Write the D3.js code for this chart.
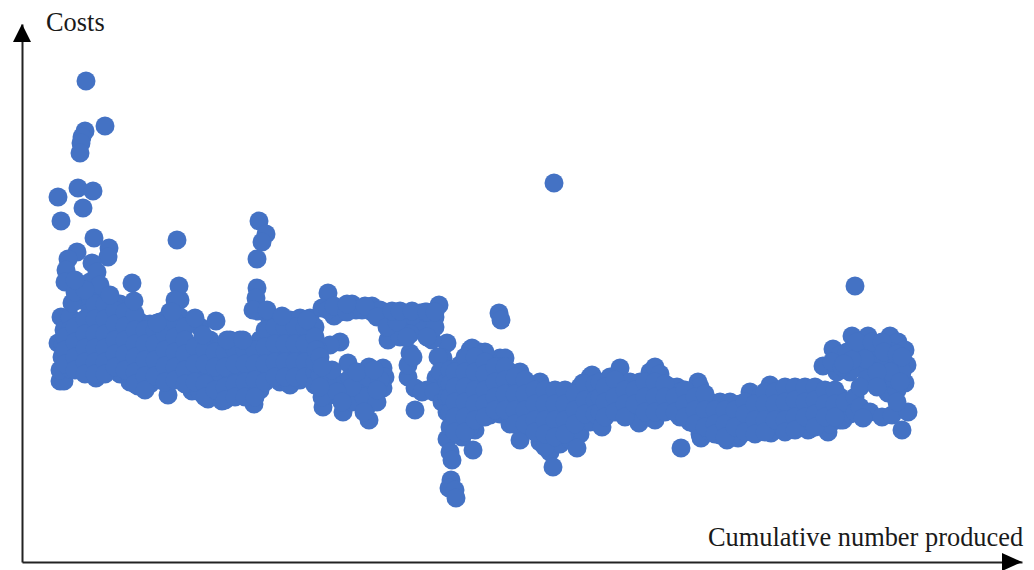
<!DOCTYPE html>
<html lang="en">
<head>
    <meta charset="utf-8">
    <title>Costs vs cumulative number produced</title>
    <script src="https://cdn.jsdelivr.net/npm/d3@7"></script>
    <style>
        html, body {margin: 0; padding: 0; background: #fff;}
        text {font-family: "Liberation Serif", serif; fill: #1a1a1a;}
    </style>
</head>
<body>
<script>
    const dim = {width: 1034, height: 570};

    const xLabel = "Cumulative number produced";
    const yLabel = "Costs";

    // values, [cumulative number, cost] in arbitrary units
    const outliers = [
        [64,481],[83,436],[63,431],[60,425],[59,419],[58,409],[56,374],[71,371],[61,354],[36,365],[39,341],
        [532,379],[833,276],[155,322],[237,341],[244,328],[240,320],[235,303]
    ];

    const earlyArms = [
        [55,310],[46,303],[44,292],[43,280],[50,259],[53,270],[72,324],[87,314],[86,305],[70,299],[75,290],
        [78,277],[63,272],[53,282],[88,267],[110,279],[112,261],[235,274],[234,264],[236,251],[231,252],[245,252],
        [260,246],[285,242],[157,276],[153,262],[150,250],[173,244],[194,241],[181,227],[205,222],[221,222],[135,239]
    ];

    const earlyCloud = [
        [36,219],[38,181],[42,181],[38,192],[40,205],[39,245],[42,232],[41,218],
        [48,245],[48,232],[48,218],[48,205],[48,193],
        [58,262],[58,240],[58,225],[58,212],[58,200],[58,192],
        [68,280],[68,265],[68,250],[68,236],[68,222],[68,208],[68,195],
        [78,265],[78,250],[78,236],[78,222],[78,208],[78,195],[74,184],
        [88,262],[88,248],[88,232],[88,218],[88,205],[88,193],
        [98,258],[98,245],[98,230],[98,215],[98,200],[98,188],
        [108,255],[108,240],[108,226],[108,212],[108,198],[108,180],
        [118,240],[118,225],[118,210],[118,195],[116,176],
        [128,238],[128,224],[128,208],[128,192],[128,178],
        [138,240],[138,225],[138,210],[138,195],[138,182],
        [148,250],[148,235],[148,218],[148,203],[148,188],[146,167],
        [158,262],[158,245],[158,230],[158,215],[158,200],[158,188],
        [168,215],[168,200],[168,185],[170,171],
        [178,235],[178,218],[178,200],[178,185],[178,170],
        [188,222],[188,205],[188,190],[186,163],
        [198,215],[198,200],[198,180],[200,161],
        [208,222],[208,205],[208,190],[208,172],
        [218,222],[218,205],[218,190],[218,170],
        [228,212],[228,195],[228,175],[232,158],
        [238,222],[238,205],[238,190],[238,172],
        [248,242],[248,225],[248,208],[248,190],
        [258,244],[258,228],[258,212],[258,195],[258,180],
        [268,242],[268,225],[268,208],[268,192],[268,177],
        [278,244],[278,228],[278,210],[278,195],[278,182],
        [288,244],[288,225],[288,208],[288,192],
        [296,215],[296,200]
    ];

    const earlyFill = [
        [43,225],[43,212],[43,198],
        [53,235],[53,220],[53,205],[53,192],
        [63,243],[63,228],[63,214],[63,200],[63,188],
        [73,272],[73,258],[73,243],[73,228],[73,214],[73,200],[73,188],
        [83,258],[83,243],[83,228],[83,214],[83,200],[83,188],
        [93,252],[93,238],[93,222],[93,208],[93,195],
        [103,250],[103,236],[103,222],[103,208],[103,192],
        [113,248],[113,232],[113,218],[113,205],[113,190],[113,178],
        [123,232],[123,218],[123,202],[123,186],[123,172],
        [133,232],[133,218],[133,202],[133,186],
        [143,242],[143,228],[143,212],[143,196],[143,180],
        [153,240],[153,225],[153,210],[153,195],[153,182],
        [163,235],[163,222],[163,208],[163,192],[163,178],
        [173,215],[173,198],[173,180],
        [183,212],[183,198],[183,178],[183,165],
        [193,210],[193,195],[193,172],
        [203,210],[203,195],[203,175],[203,162],
        [213,212],[213,198],[213,178],[213,165],
        [223,212],[223,198],[223,180],[223,165],
        [233,212],[233,198],[233,182],[233,165],
        [243,232],[243,215],[243,198],[243,180],
        [253,235],[253,218],[253,200],[253,185],
        [263,235],[263,218],[263,200],[263,185],
        [273,235],[273,218],[273,200],[273,185],
        [283,235],[283,218],[283,200],[283,185],
        [293,235],[293,225],[293,190]
    ];

    const middleBlock = [
        [318,220],[308,217],[296,212],[301,155],[321,150],[326,199],[347,195],[361,194],[363,185],[361,174],
        [347,142],[346,157],[308,167],[293,177],[298,187],[313,182],[328,184],[323,170],[338,177],[350,182],
        [336,162],[350,170],[293,200],[294,212],
        [306,269],[300,254],[318,250],[330,258],[334,252],[350,256],[350,250],[363,250],[373,248],[383,249],
        [398,249],[408,246],[417,257],[409,240],[408,232],[366,222],[378,232],[388,237],[398,232],[312,246],
        [388,209],[386,185],[393,174],[393,152],[425,219],[421,204],[416,205],[414,184],[405,172],[400,235],[410,222],
        [477,249],[479,242]
    ];

    const middleFill = [
        [306,252],[312,256],[325,250],[340,252],[358,252],[368,248],[378,247],[390,246],[403,250],[413,245],
        [325,258],[343,256],[413,235],[388,228],[378,225],[405,225],[355,245],[365,235],[375,240],[385,225],
        [303,170],[318,165],[330,160],[342,165],[355,160],[330,175],[345,185],[358,182],[335,190],[352,192],
        [305,180],[300,165],[315,170],[298,175],[310,192],[298,205],[300,195],[320,160],[355,172],[342,150],
        [386,197],[391,205],[400,170],[418,190],[424,175],[412,170],[420,160],
        [370,251],[378,251],[390,251],[405,250],[413,250]
    ];

    const dropCloud = [
        [425,123],[428,110],[430,102],[429,82],[427,74],[433,72],[434,64],[451,112],[453,132],[435,139],[428,135],[440,125],
        [425,150],[425,165],[425,180],
        [428,192],[428,178],[428,165],[428,150],
        [438,197],[438,182],[438,168],[438,152],
        [448,212],[448,197],[448,182],[448,168],[448,150],[448,135],
        [458,210],[458,196],[458,180],[458,165],[458,150],
        [468,200],[468,185],[468,170],[468,155],[468,147],
        [478,204],[478,190],[478,175],[478,160],[478,148],
        [488,190],[488,175],[488,160],[488,145],[488,138],
        [498,190],[498,175],[498,160],[498,145],[498,122],
        [508,175],[508,160],[508,145],[508,135],
        [518,180],[518,165],[518,150],[518,130],[518,120],
        [528,165],[528,150],[528,135],[528,120],[528,110],
        [538,165],[538,150],[538,135],[538,118],
        [548,165],[548,150],[548,135],[548,122],
        [558,175],[558,160],[558,145],[558,128],[555,114],
        [568,185],[568,170],[568,155],[568,140],
        [531,95],[523,115],[450,214],[463,210],[483,204],[478,195],[570,187],[561,179]
    ];

    const dropFill = [
        [433,190],[433,175],[433,160],[433,145],[433,130],
        [443,205],[443,190],[443,175],[443,160],[443,145],[443,130],
        [453,205],[453,190],[453,172],[453,158],[453,142],
        [463,200],[463,188],[463,172],[463,158],[463,145],
        [473,195],[473,180],[473,165],[473,152],
        [483,195],[483,182],[483,168],[483,152],
        [493,185],[493,168],[493,152],[493,138],
        [503,182],[503,168],[503,152],[503,138],
        [513,172],[513,158],[513,142],[513,130],
        [523,172],[523,158],[523,142],[523,128],
        [533,172],[533,158],[533,142],[533,125],
        [543,172],[543,158],[543,142],[543,128],
        [553,168],[553,152],[553,138],
        [563,178],[563,162],[563,148],
        [573,178],[573,162],[573,148]
    ];

    const ridge = [
        [578,180],[578,165],[578,150],[580,135],
        [588,185],[588,170],[588,155],
        [598,194],[598,178],[598,162],
        [608,180],[608,165],[608,150],
        [618,180],[618,165],[618,150],[617,139],
        [628,190],[628,175],[628,160],[628,145],[633,195],[633,142],
        [638,188],[638,172],[638,155],
        [648,175],[648,160],[655,175],
        [658,170],[658,155],[658,145],[659,114],
        [668,165],[668,150],[668,140],
        [676,180],[678,175],[678,160],[678,145],[678,128],[679,124],
        [688,160],[688,145],[688,130],
        [698,160],[698,145],[698,127],[705,122],
        [708,160],[708,145],[708,125],[716,124],
        [718,158],[718,142],[718,127],
        [728,170],[728,155],[728,140],[731,132],
        [738,165],[738,150],[738,135],
        [748,177],[748,165],[748,150],[749,129],
        [758,165],[758,150],[758,136],
        [768,170],[768,155],[768,135],[771,133],
        [778,168],[778,155],[778,138],[786,132],
        [788,168],[788,152],[788,133],
        [798,170],[798,155],[798,140],[806,130],
        [808,165],[808,150],[808,138],
        [818,165],[818,150],[818,142],[821,142],
        [828,160],[828,148]
    ];

    const ridgeFill = [
        [583,175],[583,160],[583,145],
        [593,182],[593,165],[593,150],
        [603,172],[603,158],[603,145],
        [613,172],[613,158],
        [623,180],[623,165],[623,150],
        [633,180],[633,165],[633,150],
        [643,178],[643,165],[643,150],
        [653,165],[653,150],
        [663,172],[663,158],[663,145],
        [673,165],[673,152],[673,138],
        [683,168],[683,152],[683,135],
        [693,152],[693,138],[693,128],
        [703,152],[703,138],[703,125],
        [713,152],[713,135],
        [723,160],[723,148],[723,130],
        [733,158],[733,142],[733,128],
        [743,170],[743,158],[743,142],[743,130],
        [753,170],[753,158],[753,142],
        [763,175],[763,160],[763,142],[763,130],
        [773,175],[773,162],[773,145],[773,132],
        [783,175],[783,160],[783,145],
        [793,175],[793,162],[793,148],[793,135],
        [803,172],[803,158],[803,145],
        [813,172],[813,158],[813,145],
        [823,160],[833,165],[833,150],[838,155],[848,150]
    ];

    const lateCluster = [
        [801,196],[811,213],[818,207],[830,226],[846,226],[868,226],[876,220],[883,212],[885,197],[883,179],
        [866,169],[875,172],[825,210],[840,212],[855,212],[870,210],[835,195],[850,197],[862,197],[875,197],
        [815,190],[828,190],[845,183],[860,183],[872,183],[838,175],
        [841,144],[860,145],[870,147],[886,150],[880,132],
        [810,200],[820,195],[835,220],[850,220],[860,220],[862,210],[875,208],[880,190],[868,190],[855,190],
        [843,203],[830,202],[822,198],[880,205],[878,180],[855,175],[875,160]
    ];

    const points = [
        ...earlyCloud, ...earlyFill, ...earlyArms, ...outliers,
        ...middleBlock, ...middleFill, ...dropCloud, ...dropFill,
        ...ridge, ...ridgeFill, ...lateCluster
    ];

    const xscale = d3.scaleLinear().domain([0, 1000]).range([22, 1022]);
    const yscale = d3.scaleLinear().domain([0, 538]).range([562, 24]);

    const svg = d3.select("body").append("svg")
                  .attr("width", dim.width)
                  .attr("height", dim.height)
                  .style("display", "block");

    // points
    svg.append("g")
       .selectAll("circle")
       .data(points)
       .join("circle")
          .attr("cx", d => xscale(d[0]))
          .attr("cy", d => yscale(d[1]))
          .attr("r", 9.5)
          .attr("fill", "#4472C4");

    // axes have no ticks, just the line and an arrow head
    const xAxis = svg.append("g")
                     .attr("transform", `translate(0, ${yscale(0)})`)
                     .call(d3.axisBottom(xscale).tickValues([]).tickSizeOuter(0));
    const yAxis = svg.append("g")
                     .attr("transform", `translate(${xscale(0)}, 0)`)
                     .call(d3.axisLeft(yscale).tickValues([]).tickSizeOuter(0));

    [xAxis, yAxis].forEach(a => a.select(".domain")
                                 .attr("stroke", "#222")
                                 .attr("stroke-width", 2));

    const tipX = xscale(1000), axisY = yscale(0);
    svg.append("path")
       .attr("d", `M${tipX},${axisY}L${tipX - 20},${axisY - 9}V${axisY + 9}Z`)
       .attr("fill", "#000");

    const tipY = yscale(538), axisX = xscale(0);
    svg.append("path")
       .attr("d", `M${axisX},${tipY}L${axisX - 9},${tipY + 18}H${axisX + 9}Z`)
       .attr("fill", "#000");

    // labels
    svg.append("text")
       .attr("x", 46)
       .attr("y", 31)
       .attr("font-size", 26.4)
       .text(yLabel);

    svg.append("text")
       .attr("x", 708)
       .attr("y", 546)
       .attr("font-size", 26.4)
       .text(xLabel);
</script>
</body>
</html>
